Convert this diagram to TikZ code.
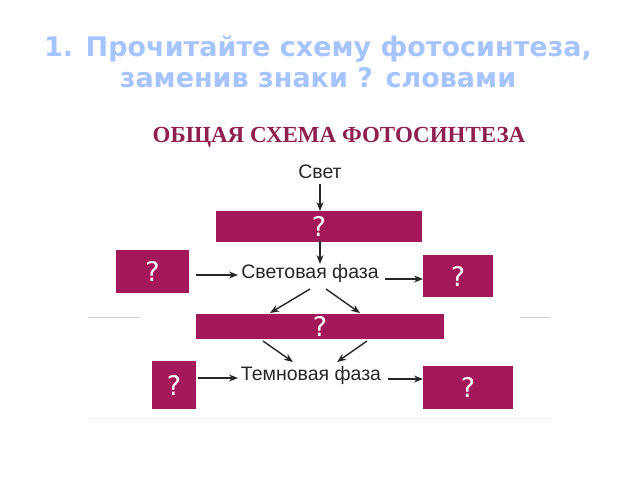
\documentclass[tikz,border=0pt]{standalone}
\usepackage{fontspec}
\setmainfont{Liberation Sans}
\newfontfamily\titlefont{DejaVu Sans Bold}
\newfontfamily\headfont{Liberation Serif}
\newfontfamily\qfont{DejaVu Sans}
\usetikzlibrary{arrows.meta}
\definecolor{titleblue}{HTML}{A6C4FF}
\definecolor{boxmag}{HTML}{A2185A}
\definecolor{headmag}{HTML}{8E1F50}
\tikzset{
  qbox/.style={fill=boxmag, draw=none, text=white, font=\qfont\fontsize{27}{27}\selectfont, inner sep=0pt},
  lbl/.style={font=\fontsize{19.5}{20}\selectfont, text=black!85, inner sep=0pt},
  arr/.style={draw=black!85, line width=1.4pt, -{Stealth[length=9pt,width=7pt]}},
  gline/.style={draw=black!20, line width=0.6pt}
}
\begin{document}
\begin{tikzpicture}[x=1pt,y=-1pt]
\useasboundingbox (0,0) rectangle (640,480);
\fill[white] (0,0) rectangle (640,480);
% title
\node[font=\titlefont\fontsize{27}{31}\selectfont, text=titleblue, align=center] (title) at (318,62)
  {1. Прочитайте схему фотосинтеза,\\заменив знаки ? словами};
% heading
\node[font=\headfont\bfseries\fontsize{23}{24}\selectfont, text=headmag] (head) at (339,137) {ОБЩАЯ СХЕМА ФОТОСИНТЕЗА};
% labels
\node[lbl] (svet) at (320,172) {Свет};
\node[lbl] (light) at (310,273) {Световая фаза};
\node[lbl] (dark) at (311,375) {Темновая фаза};
% boxes
\node[qbox, minimum width=206pt, minimum height=31pt] (b1) at (319,226) {?};
\node[qbox, minimum width=73pt, minimum height=43pt] (bl1) at (152.5,271.5) {?};
\node[qbox, minimum width=70pt, minimum height=42pt] (br1) at (458,276) {?};
\node[qbox, minimum width=248pt, minimum height=25pt] (b2) at (320,326.5) {?};
\node[qbox, minimum width=44pt, minimum height=48pt] (bl2) at (174,385) {?};
\node[qbox, minimum width=90pt, minimum height=43pt] (br2) at (468,387.5) {?};
% gray lines
\coordinate (gl1) at (88,317); \coordinate (gl2) at (140,317);
\coordinate (gr1) at (520,317); \coordinate (gr2) at (550,317);
\coordinate (gb1) at (88,418); \coordinate (gb2) at (550,418);
\draw[gline] (gl1) -- (gl2);
\draw[gline] (gr1) -- (gr2);
\draw[draw=black!6, line width=0.6pt] (gb1) -- (gb2);
% arrow end points
\coordinate (s0) at (320,184); \coordinate (e0) at (320,211);
\coordinate (s1) at (320,241); \coordinate (e1) at (320,264);
\coordinate (s2) at (196,275); \coordinate (e2) at (238,275);
\coordinate (s3) at (385,279); \coordinate (e3) at (423,279);
\coordinate (ls1) at (310,289); \coordinate (le1) at (270,313);
\coordinate (ls2) at (326,289); \coordinate (le2) at (360,313);
\coordinate (ms1) at (263,341); \coordinate (me1) at (293,362);
\coordinate (ms2) at (367,341); \coordinate (me2) at (337,362);
\coordinate (s4) at (198,378); \coordinate (e4) at (238,378);
\coordinate (s5) at (388,379); \coordinate (e5) at (423,379);
\draw[arr] (s0) -- (e0);
\draw[arr] (s1) -- (e1);
\draw[arr] (s2) -- (e2);
\draw[arr] (s3) -- (e3);
\draw[arr] (ls1) -- (le1);
\draw[arr] (ls2) -- (le2);
\draw[arr] (ms1) -- (me1);
\draw[arr] (ms2) -- (me2);
\draw[arr] (s4) -- (e4);
\draw[arr] (s5) -- (e5);
\end{tikzpicture}
\end{document}
